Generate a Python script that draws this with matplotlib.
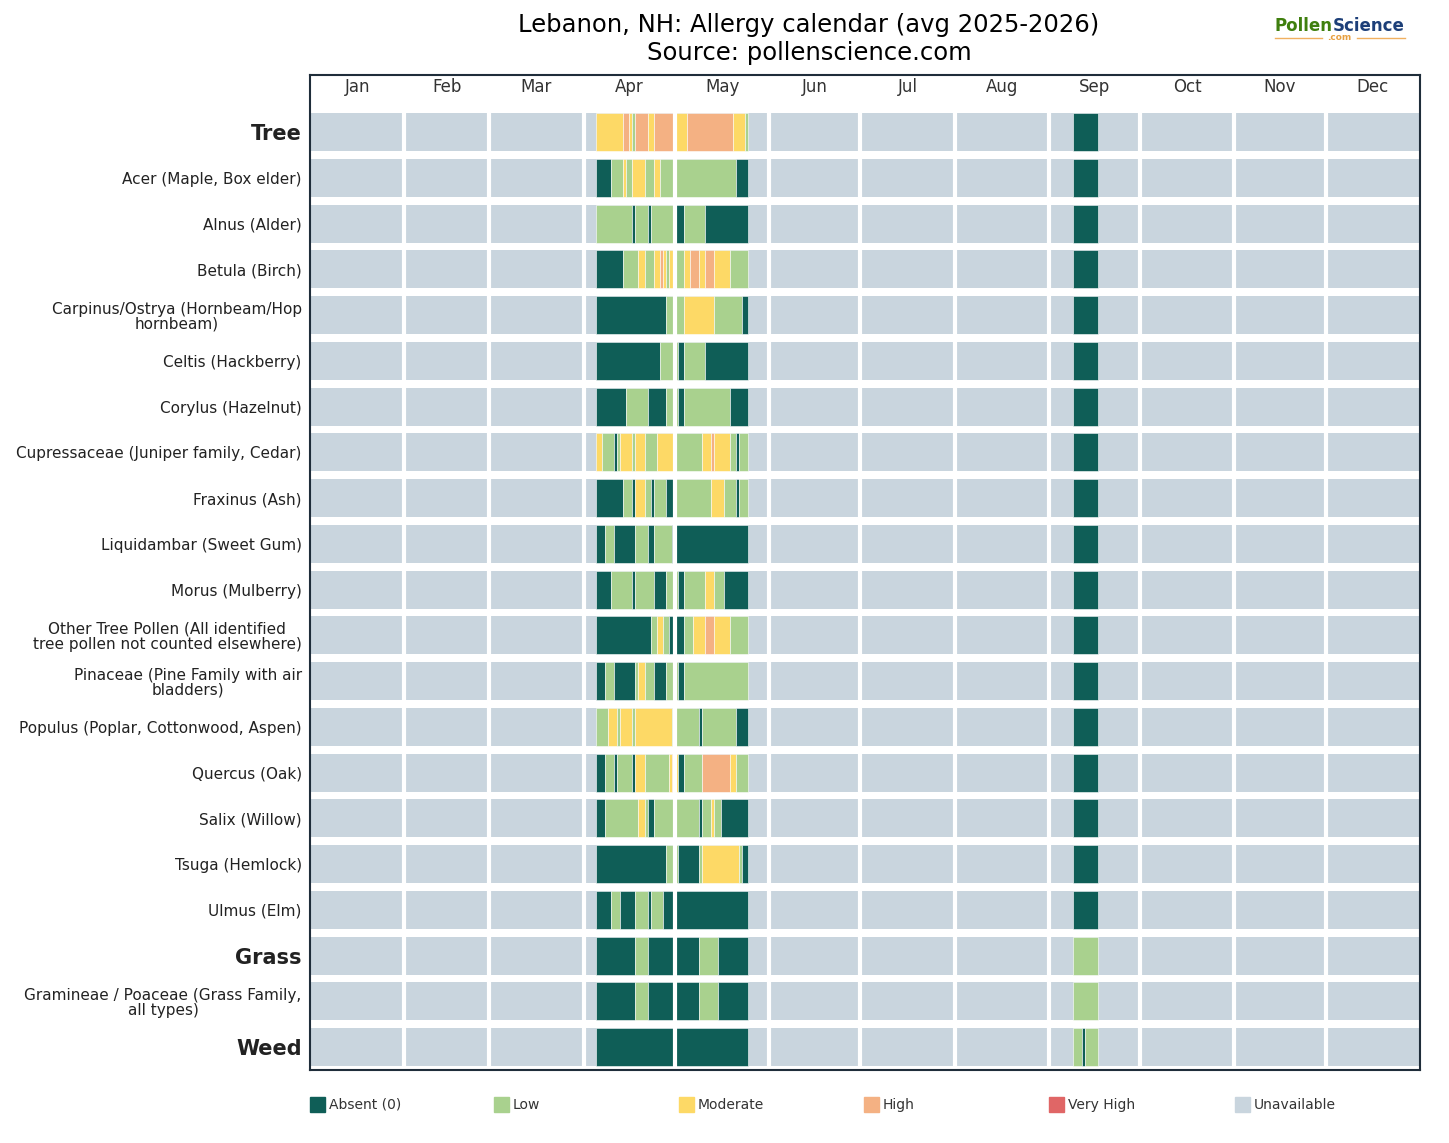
import matplotlib
matplotlib.use("Agg")
import matplotlib.pyplot as plt
from matplotlib.patches import Rectangle

months = ["Jan","Feb","Mar","Apr","May","Jun","Jul","Aug","Sep","Oct","Nov","Dec"]
month_days = [31,28,31,30,31,30,31,31,30,31,30,31]

rows = ["Tree","Acer (Maple, Box elder)","Alnus (Alder)","Betula (Birch)",
        "Carpinus/Ostrya (Hornbeam/Hop\nhornbeam)","Celtis (Hackberry)","Corylus (Hazelnut)",
        "Cupressaceae (Juniper family, Cedar)","Fraxinus (Ash)","Liquidambar (Sweet Gum)",
        "Morus (Mulberry)","Other Tree Pollen (All identified\ntree pollen not counted elsewhere)",
        "Pinaceae (Pine Family with air\nbladders)","Populus (Poplar, Cottonwood, Aspen)",
        "Quercus (Oak)","Salix (Willow)","Tsuga (Hemlock)","Ulmus (Elm)",
        "Grass","Gramineae / Poaceae (Grass Family,\nall types)","Weed"]
bold_rows = {"Tree","Grass","Weed"}

# day codes: A=Absent, L=Low, M=Moderate, H=High, V=Very High
apr_start = 94   # Apr 5 (0-indexed day of year)
may_start = 120  # May 1
sep_start = 251  # Sep 9
apr_codes = [
 "MMMMMMMMMHHMLHHHHMMHHHHHHH",
 "AAAAALLLLMLLMMMMLLLMMLLLLL",
 "LLLLLLLLLLLLALLLLALLLLLLLL",
 "AAAAAAAAALLLLLMMLLLMMHMLMM",
 "AAAAAAAAAAAAAAAAAAAAAAALLL",
 "AAAAAAAAAAAAAAAAAAAAALLLLL",
 "AAAAAAAAAALLLLLLLAAAAAALLL",
 "MMLLLLALMMMMLMMMLLLLMMMMMM",
 "AAAAAAAAALLLAMMMLLALLLLAAA",
 "AAALLLAAAAAAALLLLAALLLLLLA",
 "AAAAALLLLLLLALLLLLLAAAALLL",
 "AAAAAAAAAAAAAAAAAALLMMLLAA",
 "AAALLLAAAAAAALMMLLLAAAALLL",
 "LLLLMMMLMMMMLMMMMMMMMMMMML",
 "AAALLLALLLLLAMMMLLLLLLLLMH",
 "AAALLLLLLLLLLLMMLAALLLLLLL",
 "AAAAAAAAAAAAAAAAAAAAAAALLL",
 "AAAAALLLAAAAALLLLALLLLAAAA",
 "AAAAAAAAAAAAALLLLAAAAAAAAA",
 "AAAAAAAAAAAAALLLLAAAAAAAAA",
 "AAAAAAAAAAAAAAAAAAAAAAAAAA",
]
may_codes = [
 "MMMMHHHHHHHHHHHHHHHMMMML",
 "LLLLLLLLLLLLLLLLLLLLAAAA",
 "AAALLLLLLLAAAAAAAAAAAAAA",
 "LLLMMHHHMMHHHMMMMMLLLLLL",
 "LLLMMMMMMMMMMLLLLLLLLLAA",
 "LAALLLLLLLAAAAAAAAAAAAAA",
 "LAALLLLLLLLLLLLLLLAAAAAA",
 "LLLLLLLLLMMMHMMMMMLLALLL",
 "LLLLLLLLLLLLMMMMLLLLALLL",
 "AAAAAAAAAAAAAAAAAAAAAAAA",
 "LAALLLLLLLMMMLLLAAAAAAAA",
 "AAALLLMMMMHHHMMMMMLLLLLL",
 "LAALLLLLLLLLLLLLLLLLLLLL",
 "LLLLLLLLALLLLLLLLLLLAAAA",
 "MAALLLLLLHHHHHHHHHMMLLLL",
 "LLLLLLLLALLLMLLAAAAAAAAA",
 "LAAAAAAALMMMMMMMMMMMMLAA",
 "AAAAAAAAAAAAAAAAAAAAAAAA",
 "AAAAAAAALLLLLLAAAAAAAAAA",
 "AAAAAAAALLLLLLAAAAAAAAAA",
 "AAAAAAAAAAAAAAAAAAAAAAAA",
]
sep_codes = ["AAAAAAAA"]*18 + ["LLLLLLLL","LLLLLLLL","LLLALLLL"]

colors = {"A":"#0f5e57","L":"#a9d18e","M":"#fdd966","H":"#f4b183","V":"#e06666","U":"#c9d5de"}
legend_items = [("Absent (0)","A"),("Low","L"),("Moderate","M"),("High","H"),("Very High","V"),("Unavailable","U")]

fig = plt.figure(figsize=(14.49,11.43), dpi=100)
ax = fig.add_axes([310/1449, 1-1070/1143, 1110/1449, 995/1143])
ax.set_xlim(0,365)
ax.set_ylim(20.5,-1.246)
h = 0.83

def runs(s, start):
    out=[]; i=0
    while i < len(s):
        j=i
        while j < len(s) and s[j]==s[i]: j+=1
        out.append((start+i, j-i, s[i])); i=j
    return out

for r in range(len(rows)):
    ax.add_patch(Rectangle((0, r-h/2), 365, h, color=colors["U"], lw=0))
    for s, st in ((apr_codes[r],apr_start),(may_codes[r],may_start),(sep_codes[r],sep_start)):
        for x0, w, c in runs(s, st):
            ax.add_patch(Rectangle((x0, r-h/2), w, h, facecolor=colors[c], edgecolor="white", lw=0.4))

cum=0
for i,(m,d) in enumerate(zip(months,month_days)):
    ax.text(cum+d/2, -0.98, m, ha="center", va="center", fontsize=12, color="#333333")
    cum+=d
    if i<11:
        ax.axvline(cum, color="white", lw=3, ymin=0, ymax=(20.5+0.6)/(21.746))

ax.set_yticks(range(len(rows)))
ax.set_yticklabels(rows)
for lab in ax.get_yticklabels():
    if lab.get_text() in bold_rows:
        lab.set_fontsize(15); lab.set_fontweight("bold")
    else:
        lab.set_fontsize(11)
    lab.set_color("#222222")
    lab.set_linespacing(1.0)
    lab.set_multialignment("center")
ax.tick_params(axis="y", length=0, pad=6)
ax.set_xticks([])
for sp in ax.spines.values():
    sp.set_color("#1f2d3a"); sp.set_linewidth(1.5)

fig.text(809/1449, 1-25/1143, "Lebanon, NH: Allergy calendar (avg 2025-2026)", ha="center", va="center", fontsize=17.5)
fig.text(809/1449, 1-53/1143, "Source: pollenscience.com", ha="center", va="center", fontsize=17.5)

# logo
fig.text(1333/1449, 1-26/1143, "Pollen", ha="right", va="center", fontsize=12, fontweight="bold", color="#3f7f0e")
fig.text(1333/1449, 1-26/1143, "Science", ha="left", va="center", fontsize=12, fontweight="bold", color="#1d3f78")
fig.text(1339/1449, 1-37/1143, ".com", ha="center", va="center", fontsize=6.5, fontweight="bold", color="#e8a040")
fig.add_artist(plt.Line2D([1275/1449,1322/1449],[1-38/1143]*2, color="#f0b060", lw=1))
fig.add_artist(plt.Line2D([1357/1449,1405/1449],[1-38/1143]*2, color="#f0b060", lw=1))

lx = [310,494,679,864,1049,1235]
for x,(lab,c) in zip(lx, legend_items):
    fig.patches.append(Rectangle((x/1449, 1-1112/1143), 15/1449, 15/1143, transform=fig.transFigure, color=colors[c]))
    fig.text((x+19)/1449, 1-1105/1143, lab, ha="left", va="center", fontsize=10, color="#333333")

fig.savefig("out.png", dpi=100)
